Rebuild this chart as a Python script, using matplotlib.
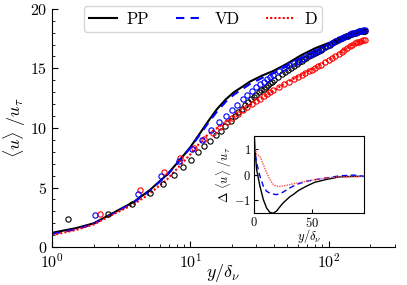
import numpy as np
import matplotlib
matplotlib.use('Agg')
import matplotlib.pyplot as plt
from matplotlib.ticker import MultipleLocator

plt.rcParams['font.family'] = 'cmr10'
plt.rcParams['mathtext.fontset'] = 'cm'
plt.rcParams['axes.unicode_minus'] = False
plt.rcParams['axes.formatter.use_mathtext'] = True

# mean velocity profiles (lines)
yp_line = [1, 1.5, 2, 2.6, 3.9, 5.1, 6.8, 8.5, 10, 11.8, 13.5, 15.6, 18, 20.6, 24, 27, 33, 40, 50, 63, 80, 98, 120, 140, 160, 185]
u_pp = [1.2, 1.6, 2.0, 2.7, 3.8, 4.8, 6.1, 7.4, 8.4, 9.6, 10.6, 11.6, 12.4, 13.0, 13.5, 13.9, 14.4, 14.8, 15.4, 16.1, 16.7, 17.1, 17.45, 17.7, 17.95, 18.2]
u_vd = [1.1, 1.5, 1.95, 2.65, 3.75, 4.75, 6.05, 7.35, 8.35, 9.5, 10.45, 11.4, 12.2, 12.8, 13.3, 13.7, 14.2, 14.6, 15.2, 15.9, 16.5, 16.95, 17.35, 17.6, 17.9, 18.15]
u_d = [1.0, 1.45, 1.9, 2.6, 3.6, 4.5, 5.7, 6.9, 7.8, 8.8, 9.5, 10.0, 10.5, 11.0, 11.55, 11.9, 12.5, 13.15, 13.85, 14.45, 15.1, 15.7, 16.3, 16.85, 17.15, 17.35]

# reference profiles (circles)
yp_k = [1.3, 2.55, 3.8, 5.1, 6.35, 7.6, 8.85, 10.1, 11.4, 12.6, 13.95, 15.2, 16.5, 17.9, 19.5, 20.9,
        22.2, 23.5, 24.8, 26.1, 27.4, 28.7, 30, 31.3, 32.6, 33.9, 35.2, 36.5, 37.8, 39.1, 40.4,
        43, 45.6, 48.2, 50.8, 53.4, 56, 58.6, 61.2, 63.8, 66.4, 69, 71.6, 74.2, 76.8, 79.4, 82,
        84.6, 87.2, 89.8, 93.7, 97.6, 101.5, 105.4, 109.3, 113.2, 117.1, 121, 124.9, 128.8,
        132.7, 136.6, 140.5, 144.4, 148.3, 152.2, 156.1, 160, 163.9, 167.8, 171.7, 175.6, 179.5, 183.4]
u_k = [2.4, 2.76, 3.6, 4.56, 5.31, 6.06, 6.7, 7.33, 8.0, 8.49, 8.9, 9.38, 9.73, 10.15, 10.56, 10.98,
       11.3, 11.6, 11.9, 12.15, 12.4, 12.6, 12.8, 13.0, 13.15, 13.3, 13.45, 13.6, 13.75, 13.9, 14.05,
       14.3, 14.5, 14.7, 14.9, 15.05, 15.2, 15.35, 15.5, 15.65, 15.8, 15.9, 16.0, 16.1, 16.2, 16.3, 16.4,
       16.5, 16.55, 16.65, 16.8, 16.9, 17.0, 17.1, 17.2, 17.3, 17.4, 17.5, 17.55, 17.6,
       17.7, 17.75, 17.8, 17.85, 17.9, 17.95, 18.0, 18.05, 18.05, 18.1, 18.1, 18.15, 18.15, 18.15]

yp_b = [2.05, 4.18, 6.1, 8.2, 10.3, 12.2, 14.1, 16.2, 18.2, 20.0, 21.8, 23.8, 25.8, 27.8, 29.8, 31.8,
        33.8, 35.8, 37.8, 39.8, 43.8, 47.8, 51.8, 55.8, 59.8, 63.8, 67.8, 71.8, 75.8, 79.8, 83.8, 87.8,
        93.8, 99.8, 105.8, 111.8, 117.8, 123.8, 129.8, 135.8, 141.8, 147.8, 153.8, 159.8, 165.8, 171.8,
        177.8, 183.8]
u_b = [2.68, 4.48, 5.95, 7.25, 8.27, 9.0, 9.82, 10.5, 11.04, 11.5, 11.95, 12.4, 12.8, 13.1, 13.4, 13.65,
       13.9, 14.1, 14.3, 14.45, 14.75, 15.0, 15.25, 15.45, 15.65, 15.8, 15.95, 16.1, 16.25, 16.4, 16.5, 16.65,
       16.8, 17.0, 17.15, 17.3, 17.45, 17.55, 17.65, 17.75, 17.85, 17.95, 18.0, 18.05, 18.1, 18.15,
       18.2, 18.2]

yp_r = [2.23, 4.32, 6.41, 8.47, 10.6, 12.5, 14.5, 16.4, 18.3, 20.1, 21.9, 23.8, 25.8, 27.8, 29.8, 31.8,
        33.8, 35.8, 37.8, 39.8, 43.8, 47.8, 51.8, 55.8, 59.8, 63.8, 67.8, 71.8, 75.8, 79.8, 83.8, 87.8,
        93.8, 99.8, 105.8, 111.8, 117.8, 123.8, 129.8, 135.8, 141.8, 147.8, 153.8, 159.8, 165.8, 171.8,
        177.8, 183.8]
u_r = [2.82, 4.8, 6.33, 7.44, 8.36, 9.05, 9.6, 10.05, 10.5, 10.85, 11.2, 11.5, 11.75, 12.0, 12.25, 12.45,
       12.65, 12.85, 13.0, 13.15, 13.45, 13.7, 13.9, 14.1, 14.3, 14.45, 14.6, 14.75, 14.9, 15.05, 15.2, 15.3,
       15.5, 15.7, 15.9, 16.05, 16.25, 16.4, 16.55, 16.75, 16.85, 17.0, 17.1, 17.2, 17.25, 17.3,
       17.35, 17.35]

# inset: velocity difference
yp_in = [0, 1, 2.3, 5.1, 8, 10.8, 13.6, 16.5, 19.3, 22, 25, 30.7, 33.5, 38, 44.9, 52, 61.9, 73.3, 85, 94]
du_pp = [1.8, 0.9, 0.19, -0.45, -0.97, -1.3, -1.47, -1.5, -1.42, -1.26, -1.1, -0.86, -0.78, -0.62, -0.45, -0.3, -0.19, -0.09, -0.07, -0.07]
du_vd = [1.1, 0.8, 0.45, -0.06, -0.45, -0.65, -0.72, -0.76, -0.78, -0.74, -0.68, -0.52, -0.45, -0.36, -0.26, -0.2, -0.13, -0.05, -0.02, -0.07]
du_d = [1.2, 1.0, 0.78, 0.71, 0.39, 0.07, -0.19, -0.39, -0.45, -0.46, -0.44, -0.39, -0.36, -0.32, -0.26, -0.2, -0.13, -0.09, -0.09, -0.07]

fig = plt.figure(figsize=(4.07, 2.85), dpi=100)
ax = fig.add_axes([0.128, 0.133, 0.842, 0.836])

ax.plot(yp_line, u_pp, color='k', lw=1.5, label='PP', zorder=2)
ax.plot(yp_line, u_vd, color='b', lw=1.5, ls=(0, (4, 3)), label='VD', zorder=2)
ax.plot(yp_line, u_d, color='r', lw=1.5, ls=(0, (1, 1)), label='D', zorder=2)

ms = 3.8
ax.plot(yp_k, u_k, 'o', mfc='none', mec='k', ms=ms, mew=0.8, zorder=3)
ax.plot(yp_r, u_r, 'o', mfc='none', mec='r', ms=ms, mew=0.8, zorder=3)
ax.plot(yp_b, u_b, 'o', mfc='none', mec='b', ms=ms, mew=0.8, zorder=3)

ax.set_xscale('log')
ax.set_xlim(1, 300)
ax.set_ylim(0, 20)
ax.yaxis.set_major_locator(MultipleLocator(5))
ax.yaxis.set_minor_locator(MultipleLocator(1))
ax.spines['top'].set_visible(False)
ax.spines['right'].set_visible(False)
ax.tick_params(which='both', direction='in', labelsize=11.5)
ax.tick_params(which='major', length=4)
ax.tick_params(which='minor', length=2)
ax.set_xlabel(r'$y/\delta_\nu$', fontsize=13, labelpad=-6)
ax.set_ylabel(r'$\langle u\rangle\ /u_\tau$', fontsize=13, labelpad=1)

ax.legend(loc='upper center', bbox_to_anchor=(0.44, 1.01), ncol=3, fontsize=12,
          handlelength=1.7, columnspacing=1.6, handletextpad=0.6, frameon=True,
          fancybox=True, edgecolor='#cccccc', borderpad=0.3, borderaxespad=0.0)

# inset
axi = fig.add_axes([0.624, 0.252, 0.270, 0.271])
axi.plot(yp_in, du_pp, color='k', lw=1.0)
axi.plot(yp_in, du_vd, color='b', lw=1.0, ls=(0, (4, 2.5)))
axi.plot(yp_in, du_d, color='#ff5050', lw=1.0, ls=(0, (1, 0.8)))
axi.set_xlim(0, 94)
axi.set_ylim(-1.5, 1.5)
axi.set_xticks([0, 50])
axi.set_yticks([-1, 0, 1])
axi.tick_params(direction='in', labelsize=9, length=3, pad=2)
axi.set_xlabel(r'$y/\delta_\nu$', fontsize=9, labelpad=-2)
axi.set_ylabel(r'$\Delta\ \langle u\rangle\ /u_\tau$', fontsize=9, labelpad=0)

fig.savefig('out.png', dpi=100)
